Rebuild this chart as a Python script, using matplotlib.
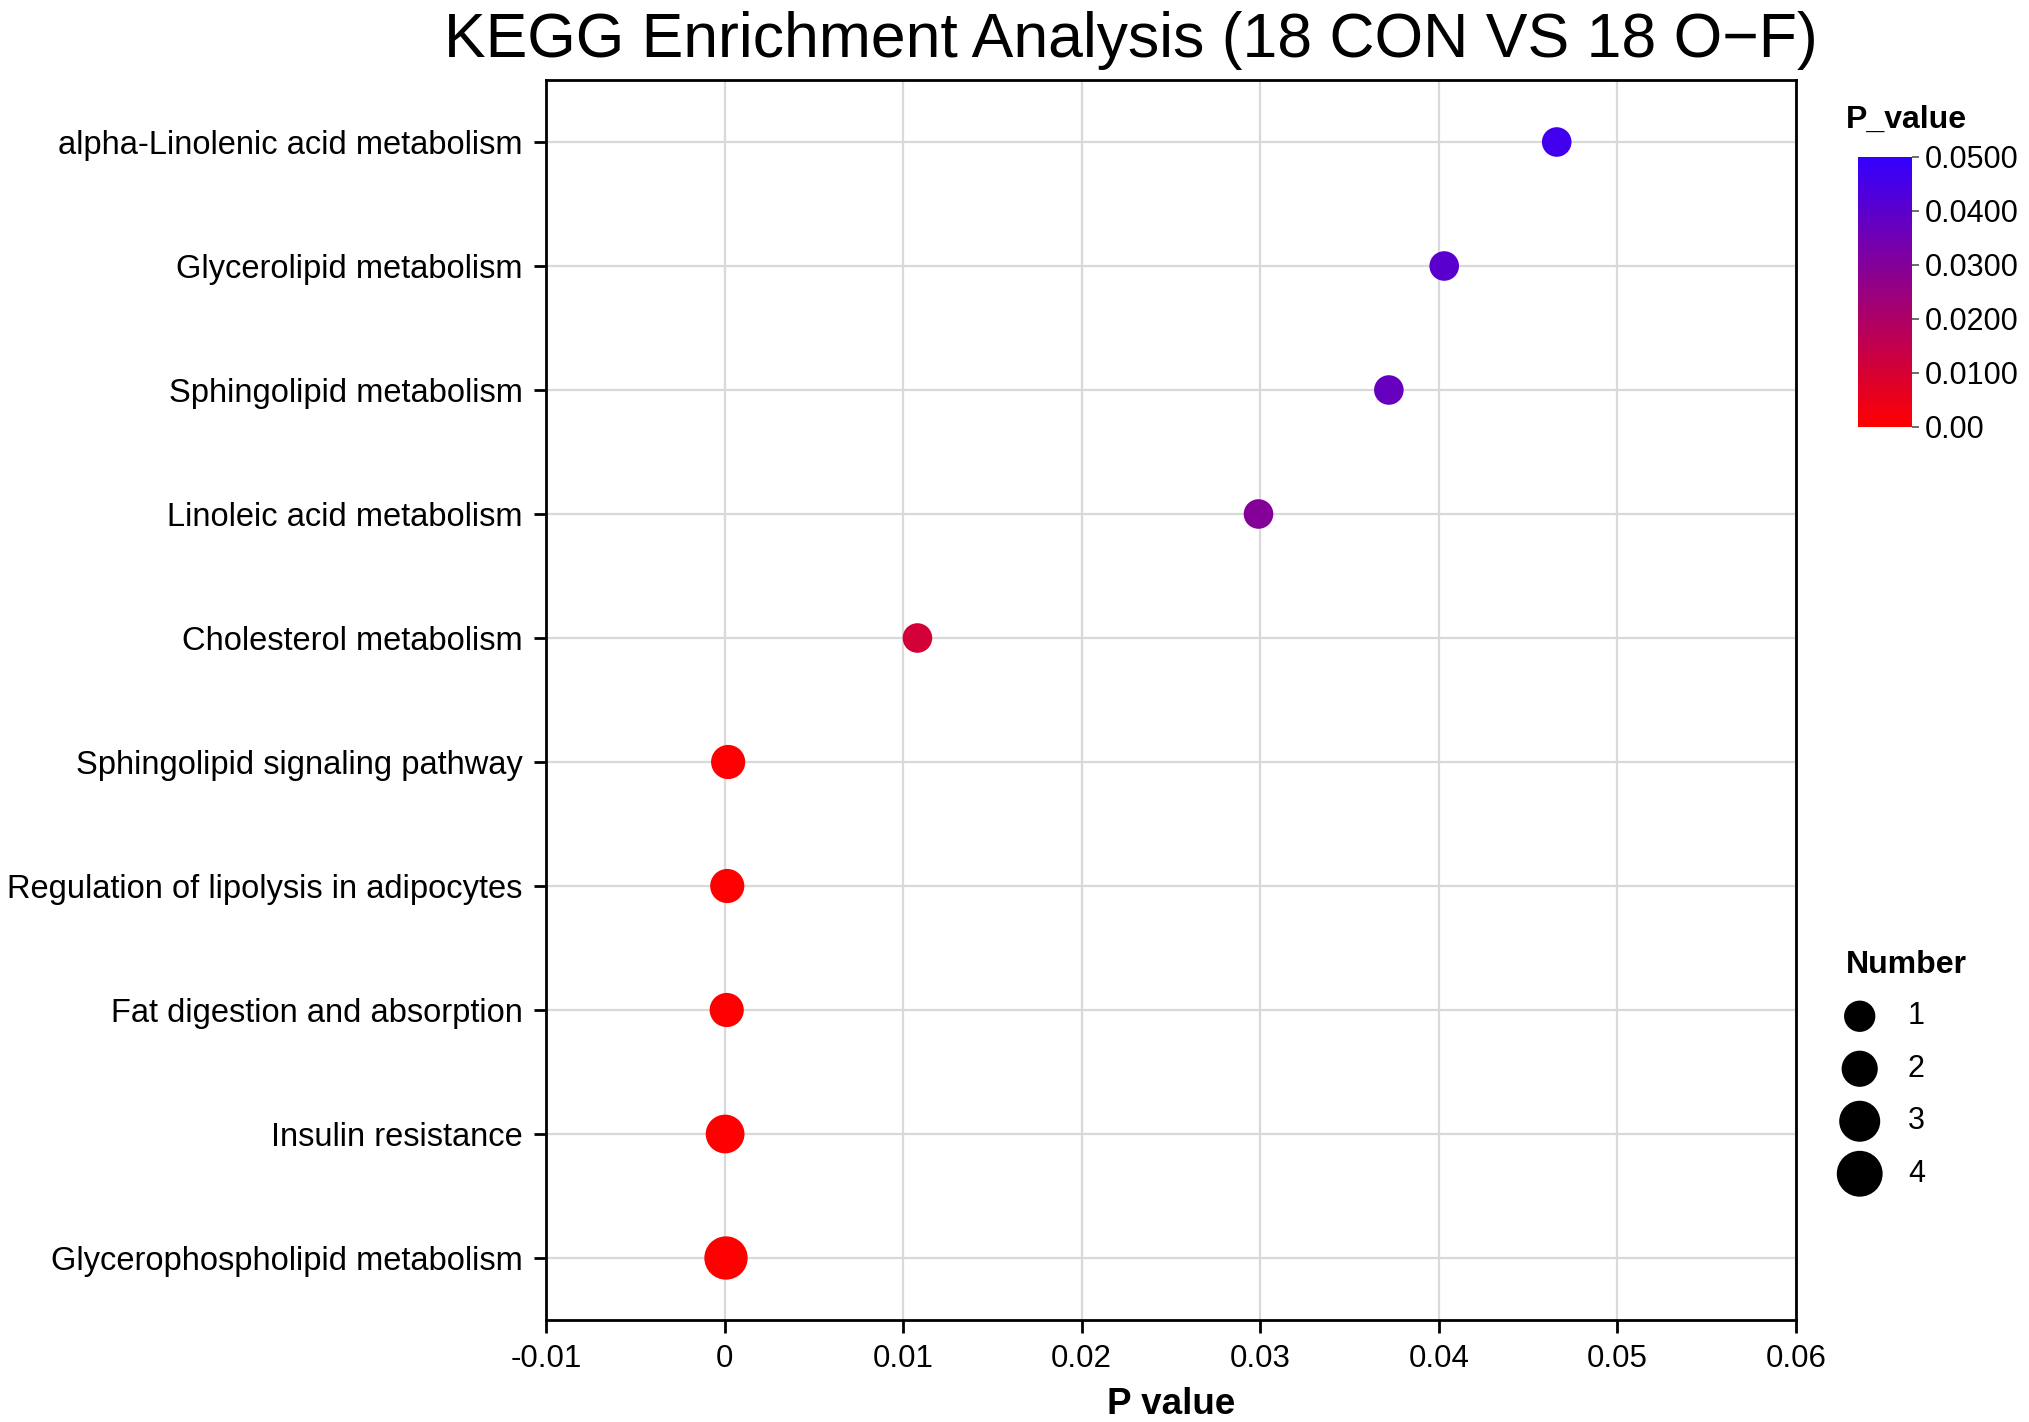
import numpy as np
import matplotlib
matplotlib.use("Agg")
import matplotlib.pyplot as plt
from matplotlib.colors import LinearSegmentedColormap, Normalize

plt.rcParams['font.family'] = ['Liberation Sans', 'DejaVu Sans']

# data (top to bottom as in the chart)
pathways = [
    "alpha-Linolenic acid metabolism",
    "Glycerolipid metabolism",
    "Sphingolipid metabolism",
    "Linoleic acid metabolism",
    "Cholesterol metabolism",
    "Sphingolipid signaling pathway",
    "Regulation of lipolysis in adipocytes",
    "Fat digestion and absorption",
    "Insulin resistance",
    "Glycerophospholipid metabolism",
]
p_values = [0.0466, 0.0403, 0.0372, 0.0299, 0.0108, 0.0002, 0.00015, 0.00012, 0.00003, 0.00008]
numbers = [1, 1, 1, 1, 1, 2, 2, 2, 3, 4]
legend_numbers = [1, 2, 3, 4]
cbar_ticks = [0.0, 0.01, 0.02, 0.03, 0.04, 0.05]
cbar_labels = ["0.00", "0.0100", "0.0200", "0.0300", "0.0400", "0.0500"]
x_ticks = [-0.01, 0, 0.01, 0.02, 0.03, 0.04, 0.05, 0.06]
x_labels = ["-0.01", "0", "0.01", "0.02", "0.03", "0.04", "0.05", "0.06"]

W, H = 2029, 1422
fig = plt.figure(figsize=(W / 100, H / 100), dpi=100)

def box(l, t, r, b):
    return [l / W, 1 - b / H, (r - l) / W, (b - t) / H]

def size_of(n):
    d = 18.0 + 3.3 * n
    return d ** 2

cmap = LinearSegmentedColormap.from_list("pv", ["#ff0000", "#3300ff"])
norm = Normalize(vmin=0, vmax=0.05)

ax = fig.add_axes(box(546, 80, 1796, 1320))
ypos = np.arange(len(pathways))[::-1]
ax.scatter(p_values, ypos, s=[size_of(n) for n in numbers], c=p_values,
           cmap=cmap, norm=norm, zorder=3, linewidths=0)
ax.set_xlim(-0.01, 0.06)
ax.set_ylim(-0.5, len(pathways) - 0.5)
ax.set_yticks(ypos)
ax.set_yticklabels(pathways, fontsize=23.5)
ax.set_xticks(x_ticks)
ax.set_xticklabels(x_labels, fontsize=22.5)
ax.grid(True, color="#d9d9d9", linewidth=1.6, zorder=0)
ax.set_axisbelow(True)
for sp in ax.spines.values():
    sp.set_linewidth(2.0)
ax.tick_params(axis="both", direction="out", length=9, width=2.0, pad=8)
ax.set_xlabel("P value", fontsize=26.5, fontweight="bold", labelpad=10)

fig.text(1131 / W, 1 - 40 / H, "KEGG Enrichment Analysis (18 CON VS 18 O\u2212F)",
         fontsize=45, ha="center", va="center")

# colorbar
cax = fig.add_axes(box(1858, 157, 1912, 427))
sm = plt.cm.ScalarMappable(cmap=cmap, norm=norm)
cb = fig.colorbar(sm, cax=cax)
cb.outline.set_visible(False)
cb.set_ticks(cbar_ticks)
cb.set_ticklabels(cbar_labels)
cax.tick_params(labelsize=22, length=5, width=1.2, color="#555555", pad=4)
fig.text(1846 / W, 1 - 120 / H, "P_value", fontsize=23, fontweight="bold",
         ha="left", va="center")

# size legend
lax = fig.add_axes(box(1820, 990, 2029, 1200))
lax.set_xlim(0, 1)
lax.set_ylim(len(legend_numbers) - 0.5, -0.5)
lax.axis("off")
lax.scatter([0.19] * len(legend_numbers), range(len(legend_numbers)),
            s=[size_of(n) * 1.12 for n in legend_numbers], color="black", linewidths=0)
for i, n in enumerate(legend_numbers):
    lax.text(0.42, i, str(n), fontsize=22, ha="left", va="center")
fig.text(1846 / W, 1 - 965 / H, "Number", fontsize=23, fontweight="bold",
         ha="left", va="center")

fig.savefig("out.png", dpi=100)
